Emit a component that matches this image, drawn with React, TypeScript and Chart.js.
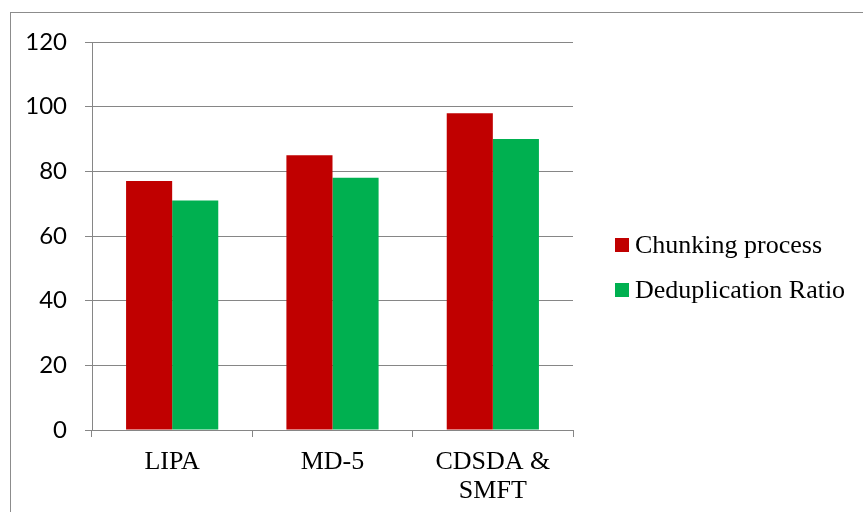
import React, { useEffect, useRef } from "react";
import { Chart, registerables } from "chart.js";

Chart.register(...registerables);

const categories: (string | string[])[] = ["LIPA", "MD-5", ["CDSDA &", "SMFT"]];
const chunkingValues = [77, 85, 98];
const dedupValues = [71, 78, 90];
const seriesNames = ["Chunking process", "Deduplication Ratio"];
const seriesColors = ["#C00000", "#00B050"];

const legendPlugin = {
  id: "customLegend",
  afterDraw(chart: any) {
    const ctx = chart.ctx;
    ctx.save();
    ctx.font = "26px 'Liberation Serif', 'Times New Roman', serif";
    ctx.textBaseline = "middle";
    ctx.fillStyle = "#000";
    const startY = 245;
    const gap = 45;
    chart.data.datasets.forEach((ds: any, i: number) => {
      const y = startY + i * gap;
      ctx.fillStyle = ds.backgroundColor;
      ctx.fillRect(615, y - 7, 14, 14);
      ctx.fillStyle = "#000";
      ctx.fillText(ds.label, 635, y + 1);
    });
    ctx.restore();
  },
};

export default function App() {
  const ref = useRef<HTMLCanvasElement | null>(null);
  useEffect(() => {
    if (!ref.current) return;
    const chart = new Chart(ref.current, {
      type: "bar",
      data: {
        labels: categories,
        datasets: [
          { label: seriesNames[0], data: chunkingValues, backgroundColor: seriesColors[0] },
          { label: seriesNames[1], data: dedupValues, backgroundColor: seriesColors[1] },
        ],
      },
      plugins: [legendPlugin],
      options: {
        responsive: false,
        animation: false,
        layout: { padding: { left: 0, right: 290, top: 42, bottom: 0 } },
        plugins: { legend: { display: false }, tooltip: { enabled: false } },
        datasets: { bar: { categoryPercentage: 0.575, barPercentage: 1 } },
        scales: {
          x: {
            grid: { offset: true, drawOnChartArea: false, drawTicks: true, tickLength: 7, color: "#868686" },
            border: { color: "#868686" },
            ticks: {
              color: "#000",
              font: { family: "'Liberation Serif', 'Times New Roman', serif", size: 26, lineHeight: 1.1 },
              padding: 11,
              maxRotation: 0,
            },
            afterFit: (scale: any) => { scale.height = 82; },
          },
          y: {
            min: 0,
            max: 120,
            ticks: {
              stepSize: 20,
              color: "#000",
              font: { family: "Lato, 'Open Sans', sans-serif", size: 24 },
              padding: 18,
            },
            grid: { color: "#868686", tickLength: 7 },
            border: { color: "#868686" },
            afterFit: (scale: any) => { scale.width = 92; },
          },
        },
      },
    });
    return () => chart.destroy();
  }, []);
  return (
    <div style={{ position: "fixed", left: 0, top: 0, width: 863, height: 512, background: "#fff", overflow: "hidden" }}>
      <div style={{ position: "absolute", left: 10, top: 12, width: 900, height: 600, border: "1px solid #8c8c8c", boxSizing: "border-box" }} />
      <canvas ref={ref} width={863} height={512} style={{ position: "absolute", left: 0, top: 0 }} />
    </div>
  );
}
